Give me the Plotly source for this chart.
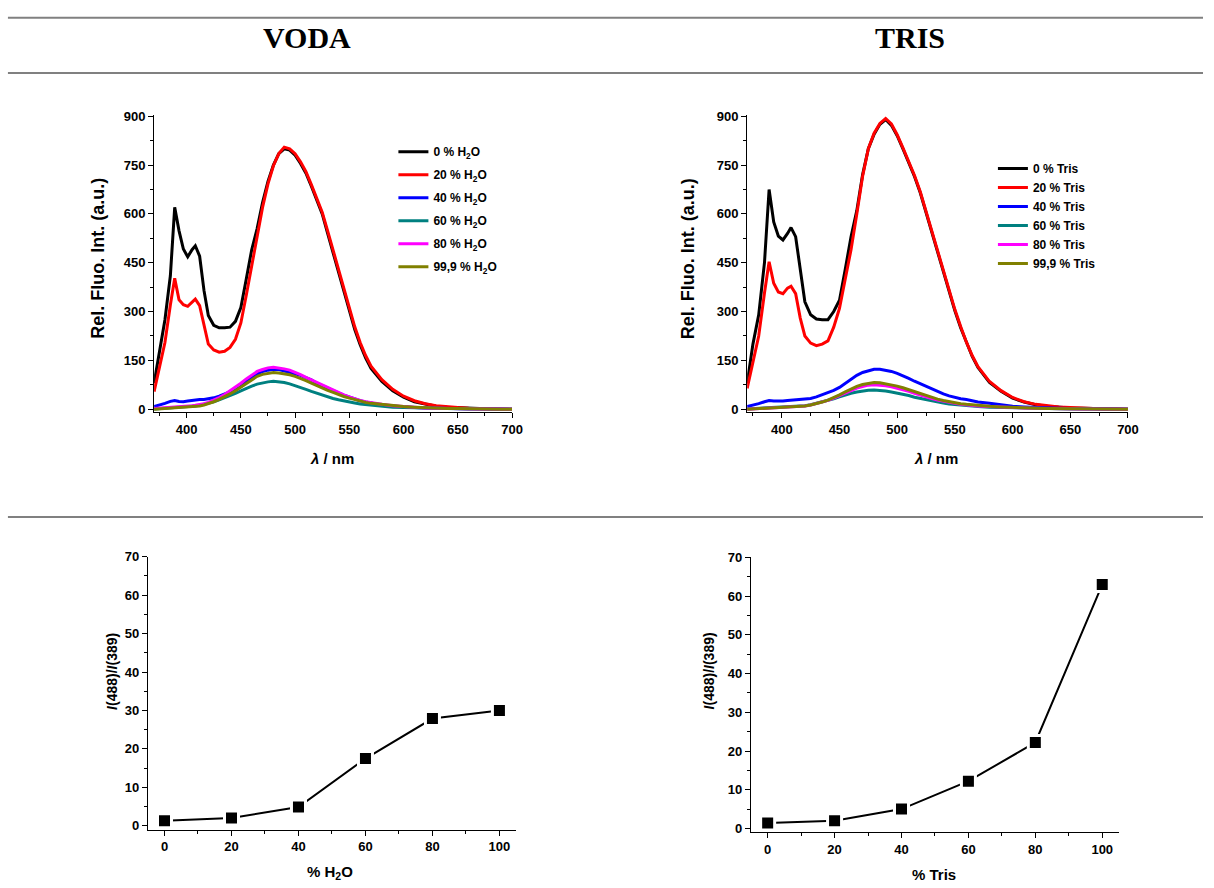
import plotly.graph_objects as go

# ---------------- data ----------------
wavelength_nm = [370, 375, 380, 385, 389, 393, 397, 401, 405, 408, 412, 416, 420, 425, 430, 435, 440, 445,
                 450, 455, 460, 465, 470, 475, 480, 485, 490, 495, 500, 505, 510, 515, 520, 525, 530, 535,
                 540, 545, 550, 555, 560, 565, 570,
                 580, 590, 600, 610, 620, 630, 640, 650, 660, 670, 680, 690, 700]

# VODA (water) series
voda_0 = [80, 175, 275, 410, 620, 548, 492, 468, 490, 502, 470, 365, 288, 258, 250, 250, 252, 270,
          312, 400, 490, 555, 635, 700, 750, 785, 800, 796, 780, 755, 725, 685, 645, 600, 540, 480,
          420, 360, 300, 245, 198, 158, 125,
          85, 57, 37, 23, 15, 9, 6, 4, 3, 2, 1, 1, 0]
voda_20 = [54, 130, 205, 320, 402, 336, 321, 316, 330, 338, 318, 255, 200, 182, 175, 178, 190, 215,
           265, 350, 440, 540, 620, 692, 748, 785, 805, 800, 785, 760, 730, 690, 650, 605, 548, 488,
           428, 368, 308, 253, 205, 165, 132,
           91, 61, 40, 26, 17, 11, 7, 5, 3, 2, 1, 1, 0]
voda_40 = [8, 12, 18, 24, 27, 24, 23, 25, 27, 29, 30, 30, 32, 35, 40, 46, 52, 60,
           70, 85, 98, 108, 116, 120, 123, 122, 118, 114, 110, 104, 97, 90, 80, 72, 65, 58,
           50, 43, 37, 31, 26, 22, 19,
           13, 10, 7, 5, 4, 3, 2, 2, 1, 1, 1, 1, 0]
voda_60 = [1, 2, 3, 4, 5, 6, 7, 8, 9, 10, 12, 15, 18, 23, 29, 35, 42, 49,
           56, 64, 71, 77, 81, 84, 86, 85, 82, 78, 73, 67, 61, 55, 49, 43, 38, 33,
           29, 25, 22, 19, 16, 14, 12,
           9, 6, 5, 4, 3, 2, 2, 1, 1, 1, 0, 0, 0]
voda_80 = [2, 3, 4, 5, 6, 7, 8, 9, 11, 12, 14, 17, 21, 28, 36, 45, 56, 68,
           80, 93, 105, 116, 122, 127, 129, 127, 124, 120, 114, 106, 98, 90, 82, 74, 66, 58,
           51, 44, 38, 32, 27, 23, 20,
           15, 11, 8, 6, 4, 3, 2, 2, 1, 1, 1, 1, 0]
voda_999 = [0, 1, 2, 3, 4, 4, 5, 6, 7, 8, 10, 13, 17, 23, 30, 38, 47, 57,
            68, 80, 91, 101, 107, 111, 113, 111, 109, 106, 101, 95, 88, 80, 72, 65, 58, 52,
            45, 39, 34, 29, 25, 21, 18,
            14, 10, 8, 6, 4, 3, 2, 2, 1, 1, 1, 0, 0]

# TRIS series
tris_0 = [80, 200, 290, 450, 675, 575, 532, 520, 540, 558, 530, 430, 330, 290, 277, 275, 275, 300,
          335, 430, 530, 610, 720, 800, 845, 875, 890, 872, 840, 800, 760, 715, 665, 605, 545, 482,
          420, 360, 302, 250, 203, 162, 128,
          82, 55, 34, 22, 14, 9, 6, 4, 3, 2, 1, 1, 0]
tris_20 = [64, 150, 225, 357, 453, 387, 360, 355, 372, 378, 355, 280, 225, 203, 195, 200, 210, 252,
           310, 400, 490, 600, 715, 800, 848, 878, 893, 876, 843, 803, 763, 718, 668, 608, 548, 486,
           424, 364, 306, 254, 206, 165, 131,
           85, 57, 36, 23, 15, 10, 7, 5, 3, 2, 1, 1, 0]
tris_40 = [8, 12, 17, 23, 27, 25, 24, 25, 27, 28, 29, 30, 31, 33, 38, 44, 51, 58,
           67, 80, 93, 104, 113, 119, 123, 123, 120, 116, 110, 103, 95, 86, 78, 70, 61, 54,
           47, 41, 36, 32, 30, 25, 22,
           18, 13, 9, 7, 5, 4, 3, 2, 2, 1, 1, 1, 0]
tris_60 = [1, 2, 2, 3, 4, 4, 5, 5, 6, 7, 8, 9, 11, 14, 18, 22, 27, 32,
           38, 44, 49, 53, 56, 58, 59, 58, 56, 53, 50, 46, 42, 37, 33, 29, 25, 22,
           19, 16, 14, 12, 11, 9, 8,
           6, 5, 4, 3, 2, 2, 1, 1, 1, 0, 0, 0, 0]
tris_80 = [0, 1, 1, 2, 3, 3, 4, 4, 5, 6, 7, 8, 10, 13, 17, 21, 27, 34,
           42, 50, 58, 65, 70, 74, 75, 74, 72, 69, 65, 60, 55, 49, 43, 38, 33, 28,
           24, 21, 18, 15, 13, 11, 10,
           8, 6, 5, 4, 3, 2, 2, 1, 1, 1, 0, 0, 0]
tris_999 = [0, 1, 1, 2, 3, 3, 4, 4, 5, 6, 7, 8, 10, 13, 17, 22, 28, 35,
            44, 53, 62, 70, 76, 80, 82, 81, 78, 75, 71, 66, 60, 54, 48, 42, 36, 31,
            27, 23, 20, 17, 15, 13, 11,
            9, 7, 5, 4, 3, 2, 2, 1, 1, 1, 0, 0, 0]

voda_labels = ["0 % H<sub>2</sub>O", "20 % H<sub>2</sub>O", "40 % H<sub>2</sub>O",
               "60 % H<sub>2</sub>O", "80 % H<sub>2</sub>O", "99,9 % H<sub>2</sub>O"]
tris_labels = ["0 % Tris", "20 % Tris", "40 % Tris", "60 % Tris", "80 % Tris", "99,9 % Tris"]
series_colors = ["#000000", "#FF0000", "#0000FF", "#008080", "#FF00FF", "#808000"]

# intensity ratio I(488)/I(389) vs. fraction
fraction_pct = [0, 20, 40, 60, 80, 100]
ratio_voda = [1.3, 2.0, 4.9, 17.5, 27.9, 30.0]
ratio_tris = [1.4, 2.0, 5.0, 12.2, 22.2, 63.0]

# ---------------- figure ----------------
W, H = 1214, 888
FONT = "Liberation Sans, Arial, sans-serif"


def px_x(p):
    return p / W


def px_y(p):
    return 1 - p / H


fig = go.Figure()

voda_series = [voda_0, voda_20, voda_40, voda_60, voda_80, voda_999]
tris_series = [tris_0, tris_20, tris_40, tris_60, tris_80, tris_999]

for i, (ys, name, col) in enumerate(zip(voda_series, voda_labels, series_colors)):
    fig.add_trace(go.Scatter(x=wavelength_nm, y=ys, mode="lines", name=name,
                             line=dict(color=col, width=3), xaxis="x", yaxis="y",
                             legend="legend", legendgroup="v%d" % i))
for i, (ys, name, col) in enumerate(zip(tris_series, tris_labels, series_colors)):
    fig.add_trace(go.Scatter(x=wavelength_nm, y=ys, mode="lines", name=name,
                             line=dict(color=col, width=3), xaxis="x2", yaxis="y2",
                             legend="legend2", legendgroup="t%d" % i))

marker_style = dict(symbol="square", size=14, color="#000000", line=dict(color="#FFFFFF", width=3))
fig.add_trace(go.Scatter(x=fraction_pct, y=ratio_voda, mode="lines+markers",
                         line=dict(color="#000000", width=2), marker=marker_style,
                         xaxis="x3", yaxis="y3", showlegend=False))
fig.add_trace(go.Scatter(x=fraction_pct, y=ratio_tris, mode="lines+markers",
                         line=dict(color="#000000", width=2), marker=marker_style,
                         xaxis="x4", yaxis="y4", showlegend=False))

tickfont = dict(family=FONT, size=13, color="#000000", weight="bold")


def axis(domain, rng, dtick, mdtick, anchor, tick0=0):
    return dict(domain=domain, range=rng, anchor=anchor, showgrid=False, zeroline=False,
                showline=True, linecolor="#000000", linewidth=1,
                ticks="outside", ticklen=5, tickwidth=1, tickcolor="#000000",
                tick0=tick0, dtick=dtick, tickfont=tickfont,
                minor=dict(ticks="outside", ticklen=3, tickwidth=1, tickcolor="#000000",
                           dtick=mdtick, tick0=tick0, showgrid=False),
                mirror=False, fixedrange=True)


top_y_dom = [px_y(410.7), px_y(109.4)]
fig.update_layout(
    xaxis=axis([px_x(155.5), px_x(516.7)], [370, 700], 50, 25, "y", tick0=400),
    yaxis=axis(top_y_dom, [-9, 904], 150, 75, "x"),
    xaxis2=axis([px_x(754), px_x(1138.3)], [370, 700], 50, 25, "y2", tick0=400),
    yaxis2=axis(top_y_dom, [-9, 904], 150, 75, "x2"),
    xaxis3=axis([px_x(149.1), px_x(520.9)], [-5, 105], 20, 10, "y3"),
    yaxis3=axis([px_y(833.9), px_y(557.3)], [-1, 70], 10, 5, "x3"),
    xaxis4=axis([px_x(757.8), px_x(1129.2)], [-5, 105], 20, 10, "y4"),
    yaxis4=axis([px_y(836.6), px_y(558)], [-1, 70], 10, 5, "x4"),
)

legend_common = dict(font=dict(family=FONT, size=12, color="#000000", weight="bold"),
                     bgcolor="rgba(0,0,0,0)", borderwidth=0, xanchor="left", yanchor="top",
                     itemclick=False, itemdoubleclick=False)
fig.update_layout(
    legend=dict(x=px_x(397), y=px_y(132), tracegroupgap=4, **legend_common),
    legend2=dict(x=px_x(1002), y=px_y(149), tracegroupgap=0, **legend_common),
)

# headers and separator rules
for ypix in [11, 67, 517]:
    fig.add_shape(type="line", xref="paper", yref="paper", x0=px_x(8), x1=1,
                  y0=px_y(ypix), y1=px_y(ypix), line=dict(color="#808080", width=2))

header_font = dict(family="Liberation Serif, Times New Roman, serif", size=30, color="#000000",
                   weight="bold")
fig.add_annotation(text="VODA", x=px_x(310), y=px_y(31), xref="paper", yref="paper",
                   showarrow=False, font=header_font, xanchor="center", yanchor="middle")
fig.add_annotation(text="TRIS", x=px_x(918), y=px_y(31), xref="paper", yref="paper",
                   showarrow=False, font=header_font, xanchor="center", yanchor="middle")

axis_titles = [
    ("Rel. Fluo. Int. (a.u.)", 98, 255, -90, 18),
    ("<i>λ</i> / nm", 335, 458, 0, 15),
    ("Rel. Fluo. Int. (a.u.)", 694, 255, -90, 18),
    ("<i>λ</i> / nm", 945, 458, 0, 15),
    ("<i>I</i>(488)/<i>I</i>(389)", 113, 673, -90, 14),
    ("% H<sub>2</sub>O", 333, 877, 0, 15),
    ("<i>I</i>(488)/<i>I</i>(389)", 715, 673, -90, 14),
    ("% Tris", 943, 879, 0, 15),
]
for text, xp, yp, ang, fs in axis_titles:
    fig.add_annotation(text=text, x=px_x(xp), y=px_y(yp), xref="paper", yref="paper",
                       showarrow=False,
                       font=dict(family=FONT, size=fs, color="#000000", weight="bold"),
                       textangle=ang, xanchor="center", yanchor="middle")

fig.update_layout(width=W, height=H, margin=dict(l=0, r=0, t=0, b=0),
                  paper_bgcolor="#FFFFFF", plot_bgcolor="#FFFFFF")

fig.write_html("out.html", config={"displayModeBar": False})
